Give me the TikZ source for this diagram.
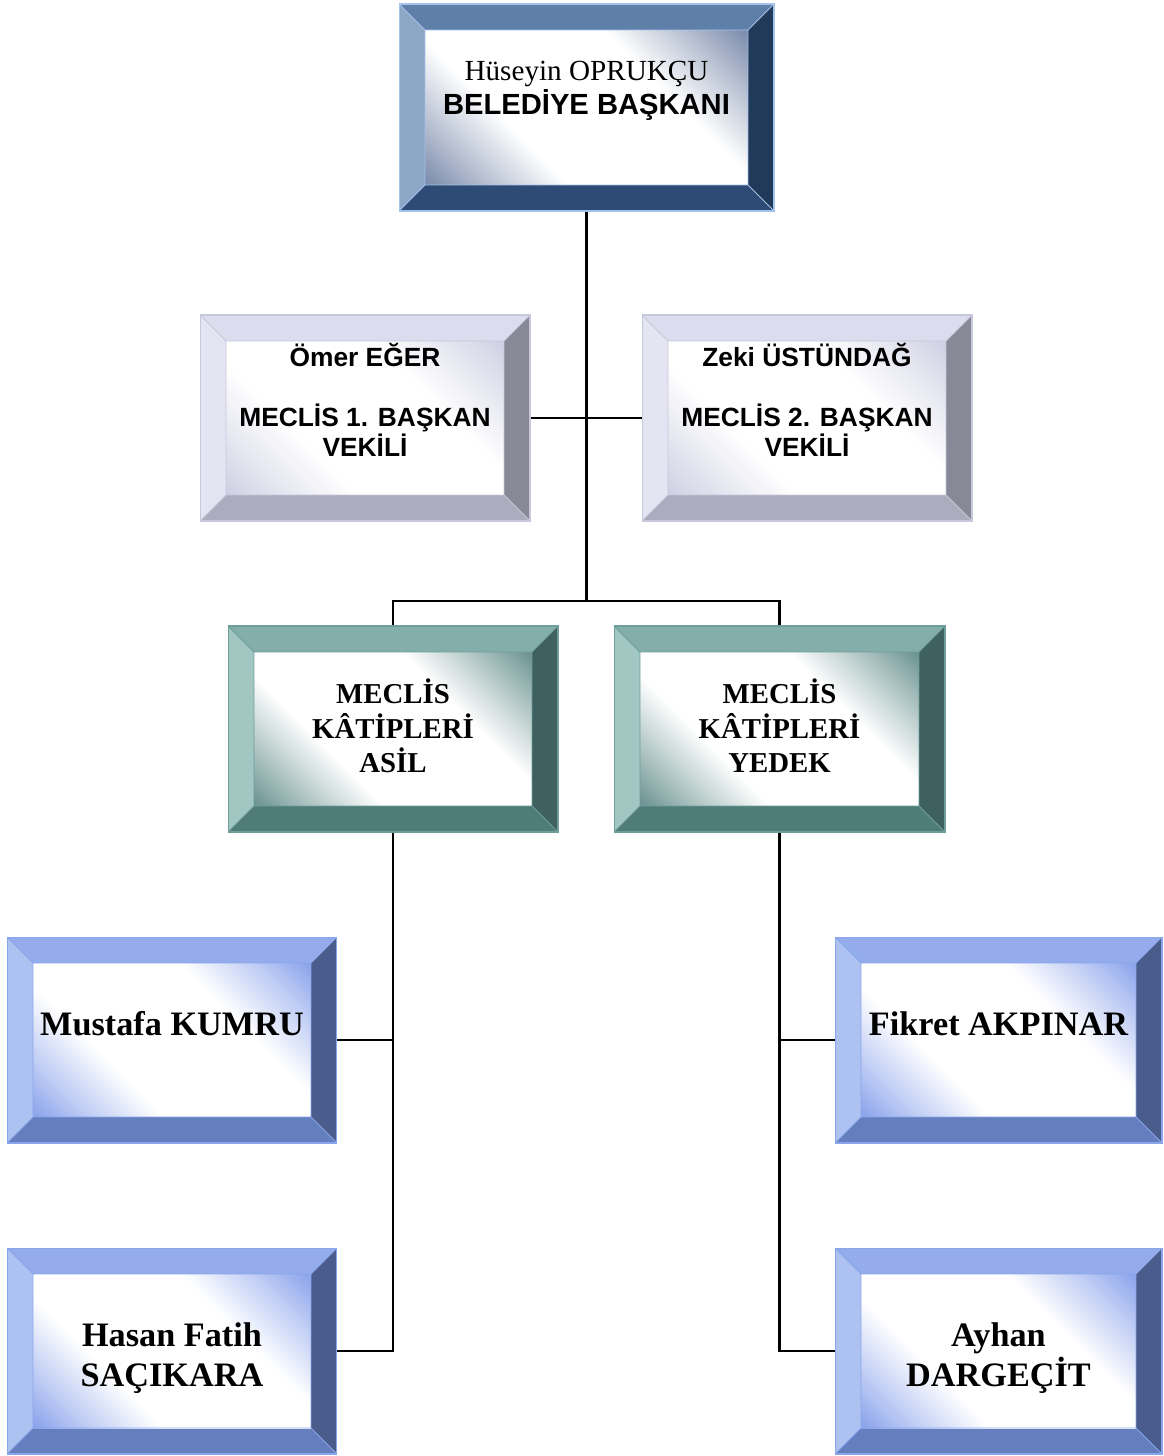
\documentclass[tikz,border=0pt]{standalone}
\usepackage{fontspec}
\setmainfont{Liberation Serif}
\setsansfont{Liberation Sans}
\usepackage{tikz}
\usetikzlibrary{positioning}
\usepackage{xcolor}
\definecolor{mayortop}{HTML}{5E7FA8}
\definecolor{mayorleft}{HTML}{8CA6C6}
\definecolor{mayorright}{HTML}{213A5A}
\definecolor{mayorbot}{HTML}{2D4B74}
\definecolor{mayorin}{HTML}{7C8CAC}
\definecolor{mayorline}{HTML}{A4C2EA}
\definecolor{vicetop}{HTML}{DCDCEE}
\definecolor{viceleft}{HTML}{E4E4F2}
\definecolor{viceright}{HTML}{888896}
\definecolor{vicebot}{HTML}{ACACBE}
\definecolor{vicein}{HTML}{D0D0E4}
\definecolor{viceline}{HTML}{C8C8DC}
\definecolor{clerktop}{HTML}{84AEAA}
\definecolor{clerkleft}{HTML}{A2C6C2}
\definecolor{clerkright}{HTML}{3E605E}
\definecolor{clerkbot}{HTML}{507C78}
\definecolor{clerkin}{HTML}{6C9492}
\definecolor{clerkline}{HTML}{6E9E9A}
\definecolor{membertop}{HTML}{94ACEC}
\definecolor{memberleft}{HTML}{AEC2F2}
\definecolor{memberright}{HTML}{4A5C8C}
\definecolor{memberbot}{HTML}{647EBE}
\definecolor{memberin}{HTML}{8CA4EC}
\definecolor{memberline}{HTML}{8AA6EA}

\colorlet{bevelc}{gray}
\pgfdeclareverticalshading[bevelc]{bevelface}{100bp}{%
  color(0bp)=(bevelc); color(15bp)=(bevelc); color(24bp)=(bevelc!55!white);
  color(36bp)=(white); color(64bp)=(white);
  color(76bp)=(bevelc!55!white); color(85bp)=(bevelc); color(100bp)=(bevelc)}

\tikzset{
  bevelbox/.style={rectangle, inner sep=0pt, minimum width=6.6cm, minimum height=4.12cm,
    draw=#1line, line width=0.6pt,
    path picture={
      \path (path picture bounding box.north west) coordinate (bnw)
            (path picture bounding box.north east) coordinate (bne)
            (path picture bounding box.south west) coordinate (bsw)
            (path picture bounding box.south east) coordinate (bse);
      \path ([xshift=0.52cm,yshift=-0.52cm]bnw) coordinate (inw)
            ([xshift=-0.52cm,yshift=-0.52cm]bne) coordinate (ine)
            ([xshift=0.52cm,yshift=0.52cm]bsw) coordinate (isw)
            ([xshift=-0.52cm,yshift=0.52cm]bse) coordinate (ise);
      \fill[#1top] (bnw) -- (bne) -- (ine) -- (inw) -- cycle;
      \fill[#1left] (bnw) -- (inw) -- (isw) -- (bsw) -- cycle;
      \fill[#1right] (bne) -- (bse) -- (ise) -- (ine) -- cycle;
      \fill[#1bot] (bsw) -- (isw) -- (ise) -- (bse) -- cycle;
      \colorlet{bevelc}{#1in}
      \shade[shading=bevelface, shading angle=-45] (inw) rectangle (ise);
      \draw[#1line, line width=0.5pt] (inw) rectangle (ise)
        (bnw) -- (inw) (bne) -- (ine) (bsw) -- (isw) (bse) -- (ise);
    }},
  boxtext/.style={align=center, inner sep=0pt, text=black},
  link/.style={line width=1.3pt}
}

\begin{document}
\begin{tikzpicture}[x=0.02cm, y=-0.02cm,
  mayorfont/.style={boxtext, font=\fontsize{16.6pt}{19.4pt}\selectfont},
  vicefont/.style={boxtext, font=\fontsize{15pt}{17pt}\selectfont\sffamily\bfseries},
  clerkfont/.style={boxtext, font=\fontsize{16.4pt}{19.6pt}\selectfont\bfseries},
  memberfont/.style={boxtext, font=\fontsize{19.5pt}{22.8pt}\selectfont\bfseries}]
  \useasboundingbox (0,0) rectangle (1163,1456);

  % boxes
  \node[bevelbox=mayor, minimum width=7.5cm, minimum height=4.14cm] (mayor) at (586.5,107.5) {};
  \node[bevelbox=vice] (vek1) at (365,418) {};
  \node[bevelbox=vice] (vek2) at (807,418) {};
  \node[bevelbox=clerk] (asil) at (393,729) {};
  \node[bevelbox=clerk, minimum width=6.62cm] (yedek) at (779.5,729) {};
  \node[bevelbox=member] (kumru) at (172,1040) {};
  \node[bevelbox=member] (sacikara) at (172,1351) {};
  \node[bevelbox=member, minimum width=6.54cm] (akpinar) at (998.5,1040) {};
  \node[bevelbox=member, minimum width=6.54cm] (dargecit) at (998.5,1351) {};

  % texts
  \node[mayorfont] (mayor-t) at ([yshift=0.34cm]mayor.center)
    {Hüseyin OPRUKÇU\\{\sffamily\bfseries BELEDİYE BAŞKANI}};
  \node[vicefont] (vek1-t) at ([yshift=0.36cm]vek1.center)
    {Ömer EĞER\\[17pt]MECLİS 1. BAŞKAN\\VEKİLİ};
  \node[vicefont] (vek2-t) at ([yshift=0.36cm]vek2.center)
    {Zeki ÜSTÜNDAĞ\\[17pt]MECLİS 2. BAŞKAN\\VEKİLİ};
  \node[clerkfont] (asil-t) at ([yshift=0.06cm]asil.center) {MECLİS\\KÂTİPLERİ\\ASİL};
  \node[clerkfont] (yedek-t) at ([yshift=0.06cm]yedek.center) {MECLİS\\KÂTİPLERİ\\YEDEK};
  \node[memberfont] (kumru-t) at ([yshift=0.32cm]kumru.center) {Mustafa KUMRU};
  \node[memberfont] (sacikara-t) at ([yshift=-0.14cm]sacikara.center) {Hasan Fatih\\SAÇIKARA};
  \node[memberfont] (akpinar-t) at ([yshift=0.32cm]akpinar.center) {Fikret AKPINAR};
  \node[memberfont] (dargecit-t) at ([yshift=-0.14cm]dargecit.center) {Ayhan\\DARGEÇİT};

  % connectors
  \coordinate (split) at (586.5,601);
  \draw[link] (mayor.south) -- (split);
  \draw[link] (vek1.east) -- (vek2.west);
  \draw[link] (split) -| (asil.north);
  \draw[link] (split) -| (yedek.north);
  \draw[link] (asil.south) |- (kumru.east);
  \draw[link] (asil.south) |- (sacikara.east);
  \draw[link] (yedek.south) |- (akpinar.west);
  \draw[link] (yedek.south) |- (dargecit.west);
\end{tikzpicture}
\end{document}
